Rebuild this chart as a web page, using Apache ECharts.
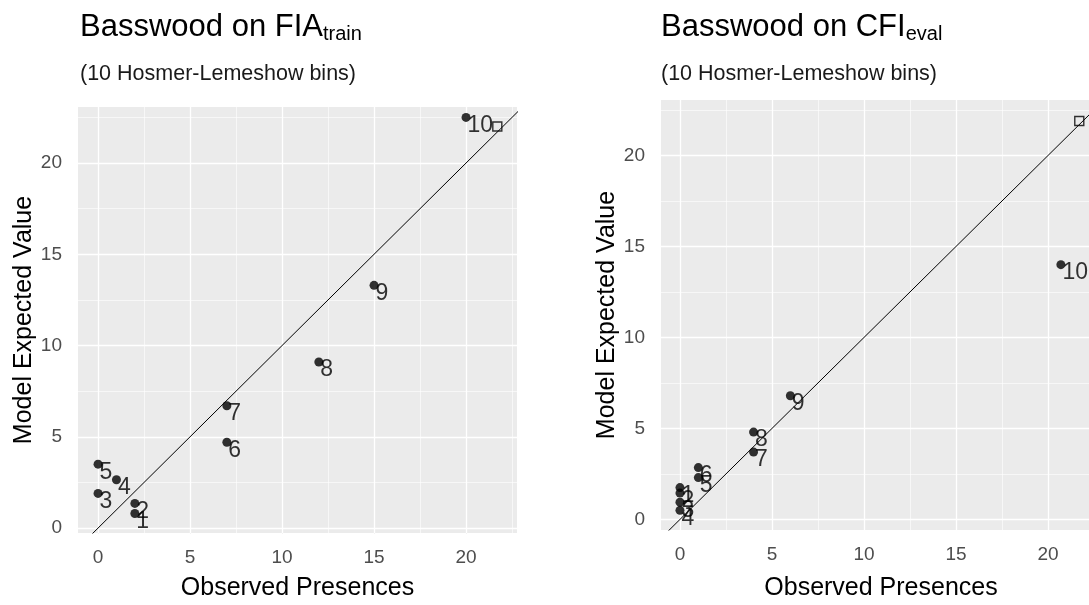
<!DOCTYPE html>
<html>
<head>
<meta charset="utf-8">
<script src="https://cdn.jsdelivr.net/npm/echarts@6/dist/echarts.min.js"></script>
<style>
  html, body { margin: 0; padding: 0; background: #fff; }
  #chart { width: 1089px; height: 605px; }
</style>
</head>
<body>
<div id="chart"></div>
<script>
  // Hosmer-Lemeshow bins
  const binNames = ["1", "2", "3", "4", "5", "6", "7", "8", "9", "10"];
  const fiaObserved = [2, 2, 0, 1, 0, 7, 7, 12, 15, 20];
  const fiaExpected = [0.8, 1.35, 1.9, 2.65, 3.5, 4.7, 6.7, 9.1, 13.3, 22.5];
  const fiaRefPoint = [21.7, 22.0];
  const cfiObserved = [0, 0, 0, 0, 1, 1, 4, 4, 6, 20.7];
  const cfiExpected = [1.75, 1.45, 0.95, 0.5, 2.3, 2.85, 3.7, 4.8, 6.8, 14.0];
  const cfiRefPoint = [21.7, 21.9];
  const majorTicks = [0, 5, 10, 15, 20];
  const minorTicks = [2.5, 7.5, 12.5, 17.5, 22.5];
  const diagEnds = [-5, 30];

  const FONT = "'Liberation Sans', Arial, sans-serif";
  const chart = echarts.init(document.getElementById("chart"));

  const titleBlock = (left, main, sub) => [
    {
      left: left,
      top: 5,
      text: "{m|" + main + "}{s|" + sub + "}",
      textStyle: {
        rich: {
          m: { fontFamily: FONT, fontSize: 31, fontWeight: "normal", color: "#000", lineHeight: 34 },
          s: { fontFamily: FONT, fontSize: 20, fontWeight: "normal", color: "#000", lineHeight: 4, verticalAlign: "bottom" },
        },
      },
    },
    {
      left: left,
      top: 58,
      text: "(10 Hosmer-Lemeshow bins)",
      textStyle: { fontFamily: FONT, fontSize: 21.5, fontWeight: "normal", color: "#1a1a1a" },
    },
  ];

  const makeXAxis = (gridIndex, min, max, gap) => ({
    gridIndex: gridIndex,
    type: "value",
    min: min,
    max: max,
    name: "Observed Presences",
    nameLocation: "middle",
    nameGap: gap,
    nameTextStyle: { fontFamily: FONT, fontSize: 25, color: "#000" },
    axisLine: { show: false },
    axisTick: { show: true, customValues: majorTicks, length: 5, lineStyle: { color: "#333" } },
    axisLabel: { customValues: majorTicks, margin: 15, fontFamily: FONT, fontSize: 19, color: "#4d4d4d" },
    splitLine: { show: false },
  });

  const makeYAxis = (gridIndex, min, max) => ({
    gridIndex: gridIndex,
    type: "value",
    min: min,
    max: max,
    name: "Model Expected Value",
    nameLocation: "middle",
    nameGap: 41,
    nameTextStyle: { fontFamily: FONT, fontSize: 25, color: "#000" },
    axisLine: { show: false },
    axisTick: { show: true, customValues: majorTicks, length: 5, lineStyle: { color: "#333" } },
    axisLabel: { customValues: majorTicks, margin: 16, fontFamily: FONT, fontSize: 19, color: "#4d4d4d" },
    splitLine: { show: false },
  });

  const gridLines = (idx) => ({
    type: "line",
    xAxisIndex: idx,
    yAxisIndex: idx,
    data: [],
    z: 1,
    silent: true,
    markLine: {
      z: 1,
      silent: true,
      symbol: "none",
      animation: false,
      label: { show: false },
      data: []
        .concat(minorTicks.map((v) => ({ xAxis: v, lineStyle: { color: "#fff", width: 0.6, type: "solid" } })))
        .concat(minorTicks.map((v) => ({ yAxis: v, lineStyle: { color: "#fff", width: 0.6, type: "solid" } })))
        .concat(majorTicks.map((v) => ({ xAxis: v, lineStyle: { color: "#fff", width: 1.3, type: "solid" } })))
        .concat(majorTicks.map((v) => ({ yAxis: v, lineStyle: { color: "#fff", width: 1.3, type: "solid" } }))),
    },
  });

  const diagonal = (idx) => ({
    type: "line",
    xAxisIndex: idx,
    yAxisIndex: idx,
    data: diagEnds.map((v) => [v, v]),
    symbol: "none",
    clip: true,
    z: 6,
    silent: true,
    lineStyle: { color: "#000", width: 1 },
  });

  const binPoints = (idx, obs, exp) => ({
    type: "scatter",
    xAxisIndex: idx,
    yAxisIndex: idx,
    data: obs.map((x, i) => ({ value: [x, exp[i]], name: binNames[i] })),
    symbol: "circle",
    symbolSize: 9,
    z: 8,
    itemStyle: { color: "#000" },
    label: {
      show: true,
      formatter: (p) => p.name,
      position: [6, 1],
      align: "left",
      verticalAlign: "top",
      fontFamily: FONT,
      fontSize: 23,
      color: "#000",
    },
  });

  const refSquare = (idx, pt) => ({
    type: "scatter",
    xAxisIndex: idx,
    yAxisIndex: idx,
    data: [pt],
    symbol: "rect",
    symbolSize: 9,
    z: 7,
    itemStyle: { color: "transparent", borderColor: "#000", borderWidth: 1.4 },
  });

  const option = {
    animation: false,
    backgroundColor: "#fff",
    title: titleBlock(75, "Basswood on FIA", "train").concat(titleBlock(656, "Basswood on CFI", "eval")),
    grid: [
      { left: 78, top: 107, width: 439, height: 426, outerBoundsMode: "none", containLabel: false, show: true, backgroundColor: "#ebebeb", borderWidth: 0 },
      { left: 661, top: 100, width: 440, height: 430, outerBoundsMode: "none", containLabel: false, show: true, backgroundColor: "#ebebeb", borderWidth: 0 },
    ],
    xAxis: [makeXAxis(0, -1.09, 22.77, 43), makeXAxis(1, -1.03, 22.88, 46)],
    yAxis: [makeYAxis(0, -0.27, 23.07), makeYAxis(1, -0.58, 23.05)],
    series: [
      gridLines(0),
      diagonal(0),
      refSquare(0, fiaRefPoint),
      binPoints(0, fiaObserved, fiaExpected),
      gridLines(1),
      diagonal(1),
      refSquare(1, cfiRefPoint),
      binPoints(1, cfiObserved, cfiExpected),
    ],
  };

  chart.setOption(option);
</script>
</body>
</html>
